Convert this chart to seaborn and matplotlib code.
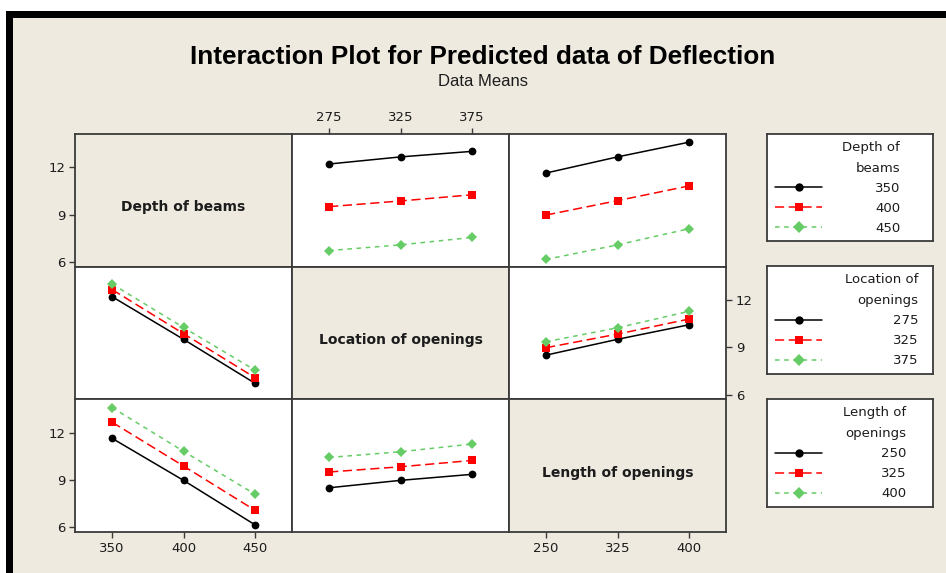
import matplotlib.pyplot as plt
import seaborn as sns
import pandas as pd
from matplotlib.lines import Line2D
from matplotlib.patches import Rectangle

# factors and their levels
factors = ["Depth of beams", "Location of openings", "Length of openings"]
legend_titles = ["Depth of\nbeams", "Location of\nopenings", "Length of\nopenings"]
depth_levels = [350, 400, 450]
location_levels = [275, 325, 375]
length_levels = [250, 325, 400]
levels = [depth_levels, location_levels, length_levels]

# predicted means (rows = levels of first factor, cols = levels of second factor)
depth_location = [[12.20, 12.65, 13.00],
                  [9.50, 9.86, 10.25],
                  [6.72, 7.08, 7.55]]
depth_length = [[11.63, 12.65, 13.58],
                [8.97, 9.88, 10.81],
                [6.16, 7.08, 8.10]]
location_length = [[8.50, 9.50, 10.42],
                   [8.97, 9.83, 10.78],
                   [9.35, 10.23, 11.27]]
tables = {(0, 1): depth_location, (0, 2): depth_length, (1, 2): location_length}

# long table: lines = levels of factor "trace", x axis = factor "xf"
rows = []
for (i, j), tab in tables.items():
    for a in range(3):
        for b in range(3):
            rows.append(dict(trace=i, xf=j, trace_lvl=a, x_lvl=b, mean=tab[a][b]))
            rows.append(dict(trace=j, xf=i, trace_lvl=b, x_lvl=a, mean=tab[a][b]))
df = pd.DataFrame(rows)

bg = "#EEEAE0"
colors = ["black", "#FF0000", "#66CC66"]
markers = ["o", "s", "D"]
dashes = ["", (6, 3), (3, 3)]
edge = "#3a3a3a"
txt = "#1c1c1c"

sns.set_style("white")
plt.rcParams["font.family"] = ["DejaVu Sans"]

fig, axes = plt.subplots(3, 3, figsize=(9.46, 5.73), dpi=100)
fig.patch.set_facecolor(bg)
fig.subplots_adjust(left=75/946, right=726/946, bottom=1-532/573, top=1-134/573,
                    wspace=0, hspace=0)

for i in range(3):
    for j in range(3):
        ax = axes[i, j]
        if i == j:
            ax.set_facecolor(bg)
            ax.text(0.5, 0.447, factors[i], transform=ax.transAxes, ha="center",
                    va="center", fontsize=10, fontweight="bold", color=txt)
        else:
            ax.set_facecolor("white")
            sub = df[(df.trace == i) & (df.xf == j)].copy()
            names = [str(v) for v in levels[i]]
            sub["level"] = [names[k] for k in sub.trace_lvl]
            sns.lineplot(data=sub, x="x_lvl", y="mean", hue="level", style="level",
                         hue_order=names, style_order=names,
                         palette=dict(zip(names, colors)),
                         markers=dict(zip(names, markers)),
                         dashes=dict(zip(names, dashes)),
                         markersize=5.6, markeredgewidth=0, linewidth=1.1,
                         errorbar=None, legend=False, ax=ax)
        ax.set_xlim(-0.52, 2.52)
        ax.set_ylim(5.7, 14.1)
        ax.set_xlabel("")
        ax.set_ylabel("")
        ax.set_xticks([])
        ax.set_yticks([])
        for s in ax.spines.values():
            s.set_visible(True)
            s.set_color(edge)
            s.set_linewidth(1.3)
        ax.tick_params(direction="out", length=4, width=1, color=edge,
                       labelsize=9.5, labelcolor=txt, pad=3,
                       bottom=False, top=False, left=False, right=False)

# tick labels around the matrix
for ax, lv in [(axes[2, 0], depth_levels), (axes[0, 1], location_levels),
               (axes[2, 2], length_levels)]:
    ax.set_xticks(range(3), [str(v) for v in lv])
axes[2, 0].tick_params(axis="x", bottom=True, labelbottom=True)
axes[2, 2].tick_params(axis="x", bottom=True, labelbottom=True)
axes[0, 1].tick_params(axis="x", top=True, labeltop=True, bottom=False, labelbottom=False)
for ax in [axes[0, 0], axes[2, 0], axes[1, 2]]:
    ax.set_yticks([6, 9, 12])
axes[0, 0].tick_params(axis="y", left=True, labelleft=True)
axes[2, 0].tick_params(axis="y", left=True, labelleft=True)
axes[1, 2].tick_params(axis="y", right=True, labelright=True, left=False, labelleft=False)

# titles
fig.text(483/946, 1-57/573, "Interaction Plot for Predicted data of Deflection",
         ha="center", va="center", fontsize=18.8, fontweight="bold", color="black",
         family=["Liberation Sans Narrow", "Liberation Sans", "DejaVu Sans"])
fig.text(483/946, 1-82/573, "Data Means", ha="center", va="center", fontsize=12,
         color=txt, family=["Liberation Sans", "DejaVu Sans"])

# legend boxes
boxes = [(134, 241), (266, 374), (399, 507)]
label_start = [875, 893, 881]
fs = 9.5
fpx = fs * 100 / 72
for k in range(3):
    top, bot = boxes[k]
    lax = fig.add_axes([767/946, 1-bot/573, 166/946, (bot-top)/573])
    lax.set_facecolor("white")
    lax.set_xticks([])
    lax.set_yticks([])
    for s in lax.spines.values():
        s.set_color(edge)
        s.set_linewidth(1.3)
    handles = []
    for c, m, d in zip(colors, markers, dashes):
        if d:
            h = Line2D([], [], color=c, marker=m, markersize=6, markeredgewidth=0,
                       linewidth=1.1, dashes=d)
        else:
            h = Line2D([], [], color=c, marker=m, markersize=6, markeredgewidth=0,
                       linewidth=1.1, linestyle="-")
        handles.append(h)
    pad = (label_start[k] - 822) / fpx
    lax.legend(handles, [str(v) for v in levels[k]], loc="upper left",
               bbox_to_anchor=(8/166, 1-48/107), frameon=False, fontsize=fs,
               handlelength=47/fpx, handletextpad=pad, labelspacing=0.52,
               borderpad=0, borderaxespad=0, labelcolor=txt)
    right = (label_start[k] + 25 - 767) / 166
    lax.text(right, 1-7/107, legend_titles[k], ha="right", va="top", fontsize=fs,
             multialignment="right", linespacing=1.78, color=txt,
             transform=lax.transAxes)

# window frame
fig.add_artist(Rectangle((0, 1-11/573), 1, 11/573, transform=fig.transFigure,
                         facecolor="white", edgecolor="none"))
fig.add_artist(Rectangle((0, 0), 6/946, 1, transform=fig.transFigure,
                         facecolor="white", edgecolor="none"))
fig.add_artist(Rectangle((6/946, 1-18/573), 1, 7/573, transform=fig.transFigure,
                         facecolor="black", edgecolor="none"))
fig.add_artist(Rectangle((6/946, 0), 7/946, 1-11/573, transform=fig.transFigure,
                         facecolor="black", edgecolor="none"))

fig.savefig("out.png", dpi=100, facecolor=bg)
